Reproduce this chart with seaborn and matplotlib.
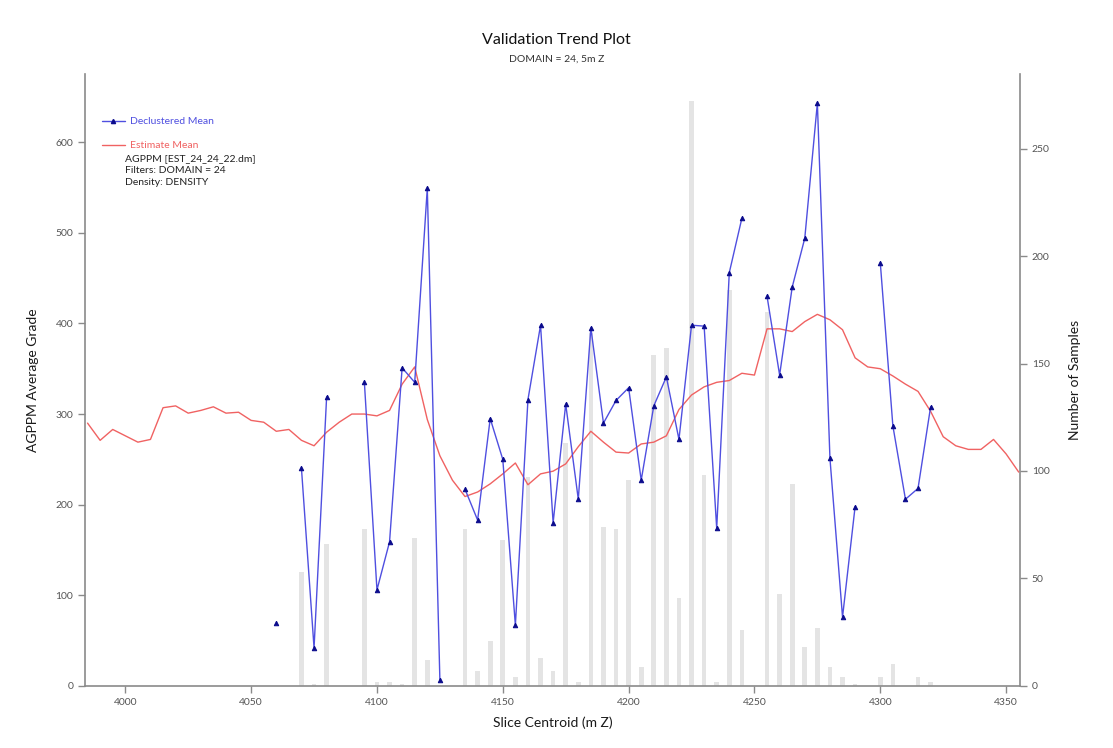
import numpy as np
import pandas as pd
import matplotlib
matplotlib.use("Agg")
import matplotlib.pyplot as plt
import seaborn as sns
from matplotlib.lines import Line2D

# ---- data -------------------------------------------------------------
# Estimate mean (block model) per 5 m slice
est_centroid = list(range(3985, 4360, 5))
est_mean = [290, 271, 283, 276, 269, 272, 307, 309, 301, 304,
            308, 301, 302, 293, 291, 281, 283, 271, 265, 280,
            291, 300, 300, 298, 304, 333, 352, 294, 254, 227,
            209, 214, 223, 234, 246, 222, 234, 237, 245, 264,
            281, 269, 258, 257, 267, 269, 276, 305, 321, 330,
            335, 337, 345, 343, 394, 394, 391, 402, 410, 404,
            393, 362, 352, 350, 342, 333, 325, 303, 275, 265,
            261, 261, 272, 256, 236]

# Declustered sample mean and sample count per slice (None = no samples)
sample_centroid = list(range(4060, 4325, 5))
declustered_mean = [69, None, 240, 42, 319, None, None, 335, 106, 159,
                    351, 335, 549, 7, None, 217, 183, 295, 250, 67,
                    316, 398, 180, 311, 206, 395, 290, 315, 329, 227,
                    309, 341, 272, 398, 397, 174, 456, 516, None, 430,
                    343, 440, 494, 643, 251, 76, 198, None, 467, 287,
                    206, 218, 308]
sample_count = [0, 0, 53, 1, 66, 0, 0, 73, 2, 2,
                1, 69, 12, 0, 0, 73, 7, 21, 68, 4,
                97, 13, 7, 113, 2, 164, 74, 73, 96, 9,
                154, 157, 41, 272, 98, 2, 184, 26, 0, 174,
                43, 94, 18, 27, 9, 4, 1, 0, 4, 10,
                0, 4, 2]

x_ticks = [4000, 4050, 4100, 4150, 4200, 4250, 4300, 4350]
grade_ticks = [0, 100, 200, 300, 400, 500, 600]
count_ticks = [0, 50, 100, 150, 200, 250]

# ---- frames -----------------------------------------------------------
smp_df = pd.DataFrame({"centroid": sample_centroid,
                       "mean": [np.nan if v is None else v for v in declustered_mean],
                       "count": sample_count})
est_df = pd.DataFrame({"centroid": est_centroid, "mean": est_mean})
# break the declustered line wherever a slice has no samples
smp_df["segment"] = smp_df["mean"].isna().cumsum()
dec_df = smp_df.dropna(subset=["mean"])

# ---- style ------------------------------------------------------------
sns.set_theme(style="white")
plt.rcParams["font.family"] = ["Lato", "DejaVu Sans"]

BLUE = "#4f4fe0"
NAVY = "#0b0b8c"
RED = "#f06262"
GREY_BAR = "#e4e4e4"
SPINE = "#8a8a8a"
TICK_TXT = "#555555"

fig = plt.figure(figsize=(11.13, 7.48), dpi=100)
ax = fig.add_axes([0.0764, 0.0829, 0.8400, 0.8180])
ax2 = ax.twinx()

# sample counts on the secondary axis, drawn behind the lines
sns.barplot(data=smp_df, x="centroid", y="count", native_scale=True,
            width=0.37, color=GREY_BAR, saturation=1, errorbar=None,
            linewidth=0, ax=ax2)
ax.set_zorder(ax2.get_zorder() + 1)
ax.patch.set_visible(False)

# estimate mean
sns.lineplot(data=est_df, x="centroid", y="mean", color=RED, linewidth=1.0,
             ax=ax, legend=False)
# declustered mean, one line per contiguous run of slices
sns.lineplot(data=dec_df, x="centroid", y="mean", units="segment",
             estimator=None, color=BLUE, linewidth=1.0, marker="^",
             markersize=3.2, markerfacecolor=NAVY, markeredgecolor=NAVY,
             ax=ax, legend=False)

# ---- axes -------------------------------------------------------------
ax.set_xlim(3984, 4355.5)
ax.set_ylim(0, 675)
ax2.set_ylim(0, 284.6)
ax.set_xticks(x_ticks)
ax.set_yticks(grade_ticks)
ax2.set_yticks(count_ticks)

for a in (ax, ax2):
    for side in ("left", "right", "bottom"):
        a.spines[side].set_color(SPINE)
        a.spines[side].set_linewidth(1.2)
    a.spines["top"].set_visible(False)
    a.tick_params(colors=SPINE, labelcolor=TICK_TXT, labelsize=7.5,
                  length=5, width=1, direction="out")
ax.spines["right"].set_visible(False)
ax2.spines["left"].set_visible(False)
ax2.spines["bottom"].set_visible(False)
ax.tick_params(axis="x", bottom=True)
ax.tick_params(axis="y", left=True)
ax2.tick_params(axis="y", right=True)
ax.grid(False)
ax2.grid(False)

ax.set_xlabel("Slice Centroid (m Z)", fontsize=10, color="#1a1a1a", labelpad=7)
ax.set_ylabel("AGPPM Average Grade", fontsize=10, color="#1a1a1a", labelpad=12)
ax2.set_ylabel("Number of Samples", fontsize=10, color="#1a1a1a", labelpad=14)

fig.text(0.5, 0.947, "Validation Trend Plot", ha="center", va="center",
         fontsize=11.5, color="#111111")
fig.text(0.5, 0.921, "DOMAIN = 24, 5m Z", ha="center", va="center",
         fontsize=7.5, color="#333333")

# ---- legend -----------------------------------------------------------
handles = [
    Line2D([], [], color=BLUE, linewidth=1.0, marker="^", markersize=3,
           markerfacecolor=NAVY, markeredgecolor=NAVY),
    Line2D([], [], color=RED, linewidth=1.0),
]
ax.legend(handles, ["Declustered Mean", "Estimate Mean"],
          loc="upper left", bbox_to_anchor=(0.008, 0.945),
          frameon=False, fontsize=7.5, handlelength=2.2,
          handletextpad=0.5, labelspacing=1.4,
          labelcolor=[BLUE, RED])
ax.text(0.0428, 0.870, "AGPPM [EST_24_24_22.dm]\nFilters: DOMAIN = 24\nDensity: DENSITY",
        transform=ax.transAxes, ha="left", va="top", fontsize=7.5,
        color="#222222", linespacing=1.45)

fig.savefig("out.png", dpi=100)
